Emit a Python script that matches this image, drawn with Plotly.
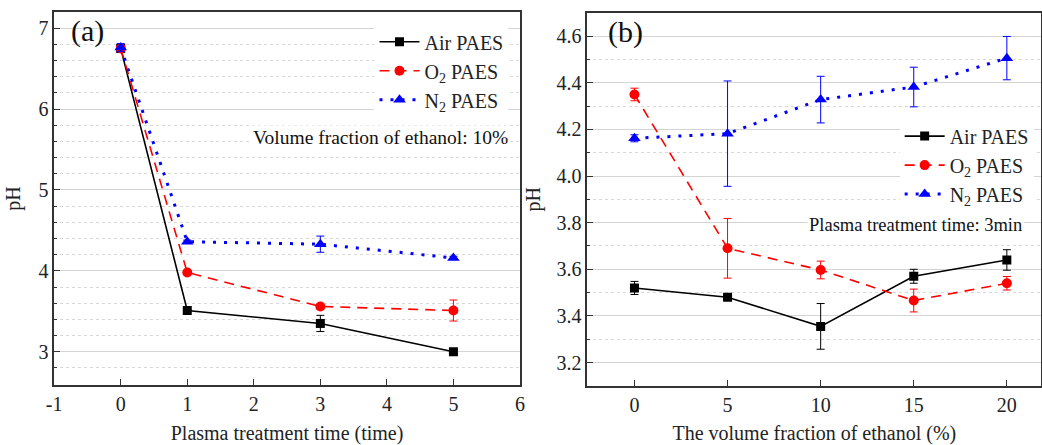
import plotly.graph_objects as go

# ---- data: panel (a) ----
time_a = [0, 1, 3, 5]
air_a = [6.75, 3.51, 3.35, 3.00]
air_a_err = [0.03, 0.02, 0.10, 0.02]
o2_a = [6.75, 3.98, 3.56, 3.51]
o2_a_err = [0.04, 0.02, 0.03, 0.13]
n2_a = [6.76, 4.36, 4.33, 4.16]
n2_a_err = [0.05, 0.02, 0.10, 0.02]
ticks_a = [-1, 0, 1, 2, 3, 4, 5, 6]
ticklabels_a = ["-1", "0", "1", "2", "3", "4", "5", "6"]

# ---- data: panel (b) ----
frac_b = [0, 5, 10, 15, 20]
air_b = [3.52, 3.48, 3.355, 3.57, 3.64]
air_b_err = [0.028, 0.01, 0.098, 0.03, 0.044]
o2_b = [4.35, 3.69, 3.597, 3.466, 3.54]
o2_b_err = [0.027, 0.128, 0.038, 0.049, 0.029]
n2_b = [4.162, 4.182, 4.328, 4.382, 4.506]
n2_b_err = [0.015, 0.226, 0.10, 0.085, 0.093]

FONT = "'Liberation Serif', 'Times New Roman', Times, serif"
series = [
    ("Air PAES", "black", "solid", 1.6, "square", 9),
    ("O<sub>2</sub> PAES", "#ff0000", "10px,7px", 1.6, "circle", 10),
    ("N<sub>2</sub> PAES", "#0000ff", "3px,8px", 3, "triangle-up", 11),
]

fig = go.Figure()
panel_a = [(air_a, air_a_err), (o2_a, o2_a_err), (n2_a, n2_a_err)]
panel_b = [(air_b, air_b_err), (o2_b, o2_b_err), (n2_b, n2_b_err)]

for (name, col, dash, lw, sym, ms), (ys, es) in zip(series, panel_a):
    fig.add_trace(go.Scatter(
        x=time_a, y=ys, name=name, mode="lines+markers",
        line=dict(color=col, dash=dash, width=lw),
        marker=dict(symbol=sym, size=ms, color=col),
        error_y=dict(type="data", array=es, color=col, thickness=1, width=4),
        xaxis="x", yaxis="y", legend="legend"))

for (name, col, dash, lw, sym, ms), (ys, es) in zip(series, panel_b):
    fig.add_trace(go.Scatter(
        x=frac_b, y=ys, name=name, mode="lines+markers",
        line=dict(color=col, dash=dash, width=lw),
        marker=dict(symbol=sym, size=ms, color=col),
        error_y=dict(type="data", array=es, color=col, thickness=1, width=4),
        xaxis="x2", yaxis="y2", legend="legend2"))

axcommon = dict(showline=True, mirror=True, linecolor="#333333", linewidth=1.5,
                ticks="inside", ticklen=6, tickcolor="#333333",
                tickfont=dict(family=FONT, size=20, color="#222222"),
                zeroline=False, automargin=False)

TITLE_FONT = dict(family=FONT, size=20, color="#222222")

fig.update_layout(
    width=1042, height=445,
    margin=dict(l=0, r=0, t=0, b=0),
    paper_bgcolor="white", plot_bgcolor="white",
    font=dict(family=FONT, size=19, color="#222222"),
    xaxis=dict(domain=[0.052, 0.499], range=[-1, 6],
               tickmode="array", tickvals=ticks_a, ticktext=ticklabels_a,
               showgrid=False, anchor="y",
               title=dict(text="Plasma treatment time (time)", standoff=12,
                          font=TITLE_FONT),
               **axcommon),
    yaxis=dict(domain=[0.135, 0.973], range=[2.59, 7.2], dtick=1, tick0=0,
               showgrid=True, gridcolor="#d4d4d4", gridwidth=1, anchor="x",
               minor=dict(dtick=0.2, tick0=0, showgrid=True, gridcolor="#d8d8d8",
                          griddash="dot", ticks="inside", ticklen=3, tickcolor="#333333"),
               title=dict(text="pH", standoff=12, font=TITLE_FONT),
               **axcommon),
    xaxis2=dict(domain=[0.5635, 0.9995], range=[-2.54, 21.86], dtick=5, tick0=0,
                showgrid=False, anchor="y2",
                title=dict(text="The volume fraction of ethanol (%)", standoff=12,
                           font=TITLE_FONT),
                **axcommon),
    yaxis2=dict(domain=[0.133, 0.971], range=[3.1, 4.7], dtick=0.2, tick0=0,
                tickformat=".1f",
                showgrid=True, gridcolor="#d4d4d4", gridwidth=1, anchor="x2",
                minor=dict(dtick=0.1, tick0=0, showgrid=True, gridcolor="#d8d8d8",
                           griddash="dot", ticks="inside", ticklen=3, tickcolor="#333333"),
                title=dict(text="pH", standoff=10, font=TITLE_FONT),
                **axcommon),
    legend=dict(x=0.488, xanchor="right", y=0.95, yanchor="top",
                bgcolor="white", font=dict(family=FONT, size=20),
                tracegroupgap=0, itemwidth=40),
    legend2=dict(x=0.992, xanchor="right", y=0.738, yanchor="top",
                 bgcolor="white", font=dict(family=FONT, size=20),
                 tracegroupgap=0, itemwidth=40),
    showlegend=True,
    annotations=[
        dict(text="(a)", x=0.066, y=0.93, xref="paper", yref="paper",
             xanchor="left", yanchor="middle", showarrow=False,
             font=dict(family=FONT, size=30, color="#111111")),
        dict(text="(b)", x=0.582, y=0.928, xref="paper", yref="paper",
             xanchor="left", yanchor="middle", showarrow=False,
             font=dict(family=FONT, size=30, color="#111111")),
        dict(text="Volume fraction of ethanol: 10%", x=0.489, y=0.692,
             xref="paper", yref="paper", xanchor="right", yanchor="middle",
             showarrow=False, bgcolor="white",
             font=dict(family=FONT, size=19.5, color="#111111")),
        dict(text="Plasma treatment time: 3min", x=0.983, y=0.494,
             xref="paper", yref="paper", xanchor="right", yanchor="middle",
             showarrow=False, bgcolor="white",
             font=dict(family=FONT, size=18.5, color="#111111")),
    ],
)

fig.write_html("out.html")
